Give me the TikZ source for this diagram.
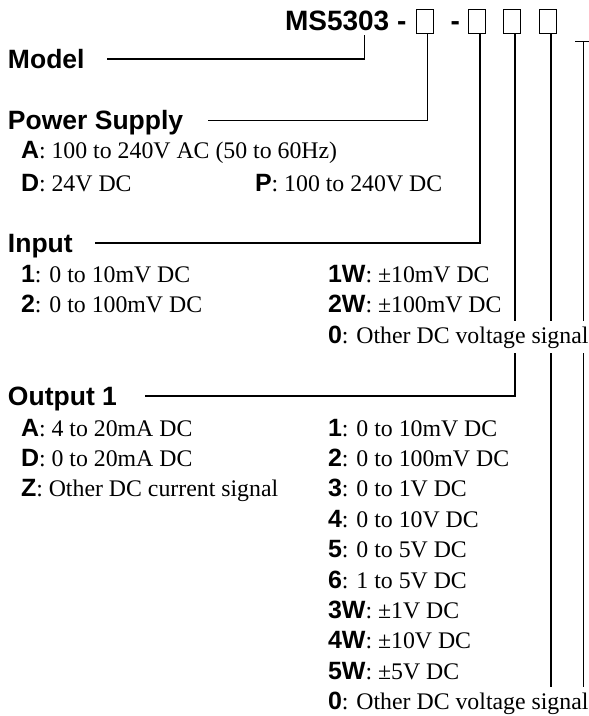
\documentclass[tikz,border=0pt]{standalone}
\usepackage{fontspec}
\setmainfont{Liberation Serif}
\newfontfamily\hd{Liberation Sans}
\usetikzlibrary{backgrounds}
\newcommand\lb[1]{{\hd\bfseries\fontsize{25}{28}\selectfont #1}}
\begin{document}
\begin{tikzpicture}[x=1pt,y=-1pt,
  every node/.style={inner sep=0pt, outer sep=0pt},
  head/.style={anchor=base west, font=\hd\bfseries\fontsize{26.5}{30}\selectfont, text height=18pt, text depth=0pt},
  hdr/.style={anchor=base west, font=\hd\bfseries\fontsize{28}{30}\selectfont},
  row/.style={anchor=base west, font=\fontsize{23.8}{28}\selectfont},
  cover/.style={row, fill=white, inner ysep=5pt, inner xsep=2pt},
  cbox/.style={draw, line width=1.2pt, minimum width=17pt, minimum height=24pt},
  conn/.style={line width=1.1pt}]
\useasboundingbox (0,0) rectangle (589,716);
% header
\node[hdr] (ms) at (285,30.5) {MS5303 -};
\node[cbox] (b1) at (425,21.3) {};
\node[hdr] (d2) at (450.5,30.5) {-};
\node[cbox] (b2) at (476.8,21.3) {};
\node[cbox] (b3) at (512.3,21.3) {};
\node[cbox] (b4) at (547.8,21.3) {};
\coordinate (mc) at (364.5,35);
\coordinate (t0) at (575,41.7);
\coordinate (t1) at (589,41.7);
\coordinate (tm) at (583.3,41.7);
% headings
\node[head] (model) at (8,68) {Model};
\node[head] (power) at (8,129.5) {Power Supply};
\node[head] (input) at (8,252) {Input};
\node[head] (out) at (8,405) {Output 1};
% power rows
\node[row] (pa) at (21,158.5) {\lb{A}: 100 to 240V AC (50 to 60Hz)};
\node[row] (pd) at (21,191.5) {\lb{D}: 24V DC};
\node[row] (pp) at (255,191.5) {\lb{P}: 100 to 240V DC};
% input rows
\node[row] (i1) at (21,282.7) {\lb{1}: 0 to 10mV DC};
\node[row] (i2) at (21,312.7) {\lb{2}: 0 to 100mV DC};
\node[row] (i1w) at (328,282.7) {\lb{1W}: ±10mV DC};
\node[row] (i2w) at (328,312.5) {\lb{2W}: ±100mV DC};
\node[cover] (i0) at (326,343) {\lb{0}: Other DC voltage signal};
% output rows
\node[row] (oa) at (21,436) {\lb{A}: 4 to 20mA DC};
\node[row] (od) at (21,466.4) {\lb{D}: 0 to 20mA DC};
\node[row] (oz) at (21,496.8) {\lb{Z}: Other DC current signal};
\node[row] (o1) at (328,436) {\lb{1}: 0 to 10mV DC};
\node[row] (o2) at (328,466.4) {\lb{2}: 0 to 100mV DC};
\node[row] (o3) at (328,496.8) {\lb{3}: 0 to 1V DC};
\node[row] (o4) at (328,527.2) {\lb{4}: 0 to 10V DC};
\node[row] (o5) at (328,557.6) {\lb{5}: 0 to 5V DC};
\node[row] (o6) at (328,588) {\lb{6}: 1 to 5V DC};
\node[row] (o3w) at (328,618.4) {\lb{3W}: ±1V DC};
\node[row] (o4w) at (328,648.8) {\lb{4W}: ±10V DC};
\node[row] (o5w) at (328,679.2) {\lb{5W}: ±5V DC};
\node[cover] (o0) at (326,709.6) {\lb{0}: Other DC voltage signal};
% connectors
\begin{scope}[on background layer]
\draw[conn] (mc) |- ([xshift=22pt]model.east);
\draw[conn] ([xshift=2.3pt]b1.south) |- ([xshift=25pt]power.east);
\draw[conn] ([xshift=3.2pt]b2.south) |- ([xshift=22pt]input.east);
\draw[conn] ([xshift=2.7pt]b3.south) |- ([xshift=28pt]out.east);
\draw[conn] ([xshift=3.2pt]b4.south) -- ([xshift=3.2pt]b4.south |- o0.north);
\draw[conn] (t0) -- (t1);
\draw[conn] (tm) -- (tm |- o0.north);
\end{scope}
\end{tikzpicture}
\end{document}
